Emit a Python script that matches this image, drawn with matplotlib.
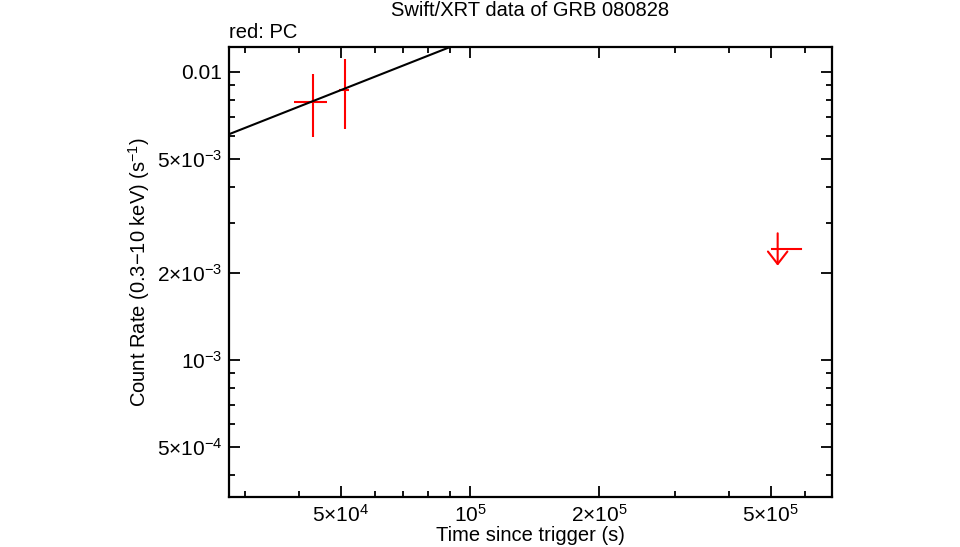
import matplotlib
matplotlib.use("Agg")
import matplotlib.pyplot as plt
from matplotlib.ticker import FixedLocator, NullFormatter, FixedFormatter

plt.rcParams['font.family'] = ['Liberation Sans', 'DejaVu Sans']
plt.rcParams['mathtext.fontset'] = 'custom'
plt.rcParams['mathtext.rm'] = 'Liberation Sans'
plt.rcParams['mathtext.it'] = 'Liberation Sans'
plt.rcParams['mathtext.bf'] = 'Liberation Sans'

# ---- data ----
pc_time = [43150, 51130]
pc_time_lo = [39000, 49660]
pc_time_hi = [46560, 52400]
pc_rate = [7.885e-3, 8.66e-3]
pc_rate_lo = [5.96e-3, 6.35e-3]
pc_rate_hi = [9.84e-3, 1.107e-2]

ul_time = [519500]
ul_time_lo = [503000]
ul_time_hi = [587500]
ul_rate = [2.423e-3]
ul_rate_top = [2.754e-3]
ul_rate_tip = [2.125e-3]

model_time = [27500, 89900]
model_rate = [6.08e-3, 1.221e-2]

xmajor = [5e4, 1e5, 2e5, 5e5]
xmajor_labels = [r'$5{\times}10^{4}$', r'$10^{5}$', r'$2{\times}10^{5}$', r'$5{\times}10^{5}$']
xminor = [3e4, 4e4, 6e4, 7e4, 8e4, 9e4, 3e5, 4e5, 6e5]
ymajor = [5e-4, 1e-3, 2e-3, 5e-3, 1e-2]
ymajor_labels = [r'$5{\times}10^{-4}$', r'$10^{-3}$', r'$2{\times}10^{-3}$', r'$5{\times}10^{-3}$', '0.01']
yminor = [4e-4, 6e-4, 7e-4, 8e-4, 9e-4, 3e-3, 4e-3, 6e-3, 7e-3, 8e-3, 9e-3]

xlim = (27500, 695000)
ylim = (3.345e-4, 1.221e-2)

fig = plt.figure(figsize=(9.6, 5.47), dpi=100)
ax = fig.add_axes([229/960, 50/547, 603/960, 450/547])
ax.set_xscale('log')
ax.set_yscale('log')
ax.set_xlim(*xlim)
ax.set_ylim(*ylim)

red = '#ff0000'
lw = 1.5
ax.plot(model_time, model_rate, color='black', lw=lw, zorder=3)

xerr = [[t - lo for t, lo in zip(pc_time, pc_time_lo)], [hi - t for t, hi in zip(pc_time, pc_time_hi)]]
yerr = [[r - lo for r, lo in zip(pc_rate, pc_rate_lo)], [hi - r for r, hi in zip(pc_rate, pc_rate_hi)]]
ax.errorbar(pc_time, pc_rate, xerr=xerr, yerr=yerr, fmt='none', ecolor=red, elinewidth=lw, capsize=0, zorder=2)

for t, lo, hi, r, top, tip in zip(ul_time, ul_time_lo, ul_time_hi, ul_rate, ul_rate_top, ul_rate_tip):
    ax.plot([lo, hi], [r, r], color=red, lw=lw)
    ax.annotate('', xy=(t, tip), xytext=(t, top),
                arrowprops=dict(arrowstyle='->,head_length=0.9,head_width=0.7', color=red, lw=lw,
                                shrinkA=0, shrinkB=0))

ax.xaxis.set_major_locator(FixedLocator(xmajor))
ax.xaxis.set_major_formatter(FixedFormatter(xmajor_labels))
ax.xaxis.set_minor_locator(FixedLocator(xminor))
ax.xaxis.set_minor_formatter(NullFormatter())
ax.yaxis.set_major_locator(FixedLocator(ymajor))
ax.yaxis.set_major_formatter(FixedFormatter(ymajor_labels))
ax.yaxis.set_minor_locator(FixedLocator(yminor))
ax.yaxis.set_minor_formatter(NullFormatter())

ax.tick_params(which='both', direction='in', top=True, right=True, width=1.3, labelsize=15, colors='black')
ax.tick_params(which='major', length=8, pad=5)
ax.tick_params(which='minor', length=4)
for s in ax.spines.values():
    s.set_linewidth(1.6)

ax.set_xlabel('Time since trigger (s)', fontsize=14.5, labelpad=0)
ax.set_ylabel(r'Count Rate (0.3$-$10 keV) (s$^{-1}$)', fontsize=14.5, labelpad=3)
ax.set_title('Swift/XRT data of GRB 080828', fontsize=14.5, pad=22)
ax.text(0.0, 1.01, 'red: PC', transform=ax.transAxes, ha='left', va='bottom', fontsize=14.5)

fig.savefig('out.png', dpi=100, facecolor='white')
